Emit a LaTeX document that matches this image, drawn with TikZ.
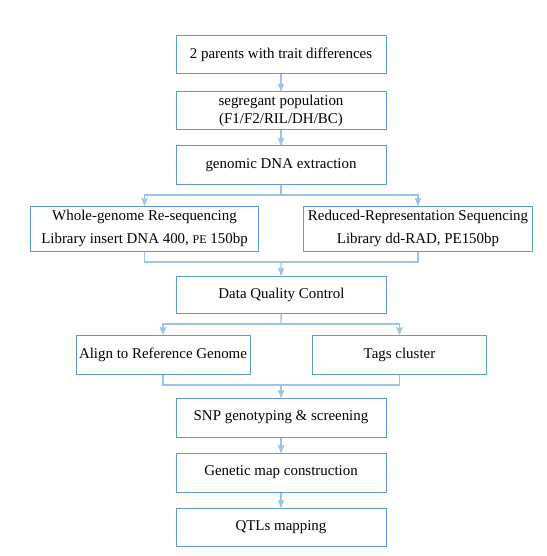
\documentclass[tikz,border=0pt]{standalone}
\usepackage{fontspec}
\setmainfont{Liberation Serif}
\usetikzlibrary{arrows}

\definecolor{boxblue}{HTML}{5B9BD5}
\definecolor{lineblue}{HTML}{9DC3E6}

\begin{document}
\begin{tikzpicture}[x=0.75pt,y=-0.75pt,>=stealth',
  box/.style={draw=boxblue,line width=0.75pt,inner sep=0pt,align=center,
    minimum width=157.5pt,minimum height=28.5pt,font=\fontsize{11.2}{13.5}\selectfont},
  conn/.style={draw=lineblue,line width=1pt}]
\useasboundingbox (0,0) rectangle (546,556);
\node[box] at (281,55) (par) {2 parents with trait differences};
\node[box] at (281,110.5) (pop) {segregant population\\(F1/F2/RIL/DH/BC)};
\node[box] at (281,165) (extr) {genomic DNA extraction};
\node[box,minimum width=171pt,minimum height=33.75pt] at (144.5,228.5) (wgs)
  {Whole-genome Re-sequencing\\[3.75pt]Library insert DNA 400, {\small PE} 150bp};
\node[box,minimum width=171.75pt,minimum height=33.75pt] at (418,228.5) (rrs)
  {Reduced-Representation Sequencing\\[3.75pt]Library dd-RAD, PE150bp};
\node[box,minimum height=27.75pt] at (281.5,294.5) (dqc) {Data Quality Control};
\node[box,minimum width=130.5pt,minimum height=29.25pt] at (163,354.5) (align) {Align to Reference Genome};
\node[box,minimum width=130.5pt,minimum height=29.25pt] at (399.5,354.5) (tags) {Tags cluster};
\node[box,minimum height=29.25pt] at (281,417.5) (snp) {SNP genotyping \& screening};
\node[box,minimum height=29.25pt] at (281,472.5) (gmap) {Genetic map construction};
\node[box] at (281,527) (qtl) {QTLs mapping};
\coordinate (split1) at (281,195);
\coordinate (merge1) at (281,262);
\coordinate (split2) at (281,324);
\coordinate (merge2) at (281,385);
\draw[conn,->] (par) -- (pop);
\draw[conn,->] (pop) -- (extr);
\draw[conn] (extr) -- (split1);
\draw[conn,->] (split1) -| (wgs);
\draw[conn,->] (split1) -| (rrs);
\draw[conn] (wgs.south) |- (merge1) -| (rrs.south);
\draw[conn,->] (merge1) -- (dqc);
\draw[conn] (dqc) -- (split2);
\draw[conn,->] (split2) -| (align);
\draw[conn,->] (split2) -| (tags);
\draw[conn] (align.south) |- (merge2) -| (tags.south);
\draw[conn,->] (merge2) -- (snp);
\draw[conn,->] (snp) -- (gmap);
\draw[conn,->] (gmap) -- (qtl);
\end{tikzpicture}
\end{document}
